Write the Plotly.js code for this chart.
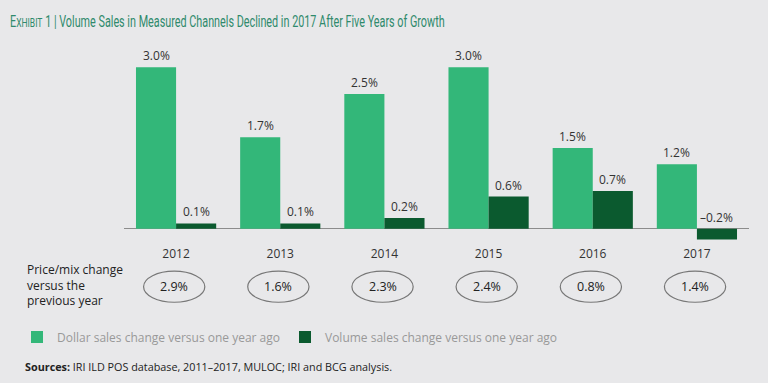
<!DOCTYPE html>
<html>
<head>
<meta charset="utf-8">
<script src="https://cdn.plot.ly/plotly-3.0.1.min.js"></script>
<style>
html,body{margin:0;padding:0;background:#e8e8ea;}
#chart{width:768px;height:383px;}
</style>
</head>
<body>
<div id="chart"></div>
<script>
const years = ['2012', '2013', '2014', '2015', '2016', '2017'];
const dollarSales = [3.0, 1.7, 2.5, 3.0, 1.5, 1.2];
const volumeSales = [0.1, 0.1, 0.2, 0.6, 0.7, -0.2];
const priceMix = [2.9, 1.6, 2.3, 2.4, 0.8, 1.4];
const seriesNames = ['Dollar sales change versus one year ago', 'Volume sales change versus one year ago'];

const fmt = v => (v < 0 ? '\u2013' + Math.abs(v).toFixed(1) : v.toFixed(1)) + '%';

const LIGHT = '#33b779';
const DARK = '#0b5a2f';
const BG = '#e8e8ea';
const FONT = 'Open Sans, Noto Sans, sans-serif';

const traces = [
  { type: 'bar', name: seriesNames[0], x: years, y: dollarSales, marker: { color: LIGHT }, hoverinfo: 'skip' },
  { type: 'bar', name: seriesNames[1], x: years, y: volumeSales, marker: { color: DARK }, hoverinfo: 'skip' }
];

const n = years.length;
const ML = 124, MR = 19, MT = 51, MB = 138;
const plotW = 768 - ML - MR, plotH = 383 - MT - MB;
const annotations = [];
// bar value labels (x given as category index)
[dollarSales, volumeSales].forEach((arr, s) => {
  arr.forEach((v, i) => {
    annotations.push({
      x: i, xref: 'x', y: Math.max(v, 0), yref: 'y',
      xshift: s === 0 ? -20 : 20, yshift: 1,
      yanchor: 'bottom', showarrow: false,
      text: fmt(v), font: { family: FONT, size: 12, color: '#333' }
    });
  });
});
// price/mix row
const shapes = [];
const yTop = -0.135, yBot = -0.295;
priceMix.forEach((v, i) => {
  const cx = (i + 0.5) / n;
  shapes.push({ type: 'circle', xref: 'paper', yref: 'paper',
    x0: cx - 0.052, x1: cx + 0.046, y0: yBot, y1: yTop,
    line: { color: '#777', width: 1.2 } });
  annotations.push({ x: cx - 0.003, xref: 'paper', y: (yTop + yBot) / 2, yref: 'paper',
    showarrow: false, text: fmt(v), xanchor: 'center', yanchor: 'middle',
    font: { family: FONT, size: 12.5, color: '#222' } });
});
annotations.push({ x: (25 - ML) / plotW, xref: 'paper', y: -0.205, yref: 'paper', showarrow: false,
  xanchor: 'left', yanchor: 'middle', align: 'left',
  text: 'Price/mix change<br>versus the<br>previous year',
  font: { family: FONT, size: 12, color: '#222' } });
annotations.push({ x: (23 - ML) / plotW, xref: 'paper', y: (245 - 366) / plotH, yref: 'paper', showarrow: false,
  xanchor: 'left', yanchor: 'middle', align: 'left',
  text: '<b>Sources:</b> IRI ILD POS database, 2011\u20132017, MULOC; IRI and BCG analysis.',
  font: { family: FONT, size: 10.8, color: '#222' } });

const layout = {
  width: 768, height: 383,
  paper_bgcolor: BG, plot_bgcolor: BG,
  margin: { l: ML, r: MR, t: MT, b: MB },
  barmode: 'group', bargap: 0.23, bargroupgap: 0,
  showlegend: true,
  legend: { orientation: 'h', x: (17 - ML) / plotW, xanchor: 'left', y: (245 - 337) / plotH, yanchor: 'middle',
    font: { family: FONT, size: 12, color: '#999' }, bgcolor: 'rgba(0,0,0,0)', traceorder: 'normal' },
  title: { text: 'E<span style="font-size:13px">XHIBIT</span> 1 | Volume Sales in Measured Channels Declined in 2017 After Five Years of Growth',
    x: 10 / 768, xanchor: 'left', xref: 'container', y: 1 - 21 / 383, yanchor: 'middle', yref: 'container',
    font: { family: 'Roboto, sans-serif', size: 16.5, color: '#2f8a6c' } },
  xaxis: { type: 'category', range: [-0.5, n - 0.5], showgrid: false, zeroline: false, showline: false, ticks: '',
    tickfont: { family: FONT, size: 12, color: '#333' }, fixedrange: true },
  yaxis: { range: [-0.3, 3.3], showgrid: false, showticklabels: false, ticks: '',
    zeroline: true, zerolinecolor: '#8c8c8c', zerolinewidth: 1, fixedrange: true },
  shapes: shapes,
  annotations: annotations
};

Plotly.newPlot('chart', traces, layout, { displayModeBar: false, staticPlot: true }).then(() => {
  // condense the title horizontally to match the narrow typeface of the original
  const t = document.querySelector('.gtitle');
  if (t) {
    const bb = t.getBBox();
    const s = 435 / bb.width;
    t.setAttribute('transform', `translate(${bb.x * (1 - s)},0) scale(${s},1)`);
  }
});
</script>
</body>
</html>
